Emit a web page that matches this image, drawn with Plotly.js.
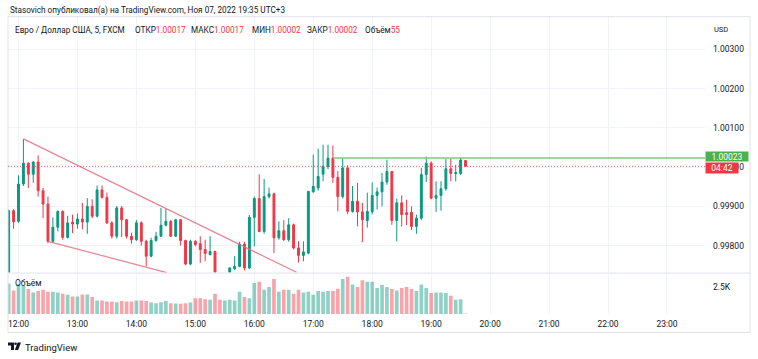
<!DOCTYPE html>
<html><head><meta charset="utf-8">
<script src="https://cdn.plot.ly/plotly-3.0.1.min.js"></script>
<style>html,body{margin:0;padding:0;background:#fff;}#chart{width:758px;height:359px;}</style>
</head><body><div id="chart"></div>
<script>
const DAY = '2022-11-07 ';
const times = ['11:50','11:55','12:00','12:05','12:10','12:15','12:20','12:25','12:30','12:35','12:40','12:45','12:50','12:55',
'13:00','13:05','13:10','13:15','13:20','13:25','13:30','13:35','13:40','13:45','13:50','13:55',
'14:00','14:05','14:10','14:15','14:20','14:25','14:30','14:35','14:40','14:45','14:50','14:55',
'15:00','15:05','15:10','15:15','15:20','15:25','15:30','15:35','15:40','15:45','15:50','15:55',
'16:00','16:05','16:10','16:15','16:20','16:25','16:30','16:35','16:40','16:45','16:50','16:55',
'17:00','17:05','17:10','17:15','17:20','17:25','17:30','17:35','17:40','17:45','17:50','17:55',
'18:00','18:05','18:10','18:15','18:20','18:25','18:30','18:35','18:40','18:45','18:50','18:55',
'19:00','19:05','19:10','19:15','19:20','19:25','19:30','19:35'];
const openP = [0.99725,0.99889,0.99862,0.99957,1.00010,0.99982,1.00013,0.99940,0.99906,0.99811,0.99847,0.99887,0.99821,0.99860,
0.99855,0.99868,0.99860,0.99900,0.99875,0.99942,0.99923,0.99858,0.99824,0.99896,0.99866,0.99824,
0.99815,0.99858,0.99811,0.99773,0.99813,0.99824,0.99852,0.99862,0.99824,0.99866,0.99813,0.99753,
0.99811,0.99805,0.99790,0.99777,0.99785,0.99728,0.99705,0.99732,0.99741,0.99747,0.99804,0.99743,
0.99872,0.99920,0.99836,0.99925,0.99932,0.99820,0.99838,0.99815,0.99853,0.99794,0.99775,0.99781,
0.99937,0.99947,0.99982,1.00002,1.00023,0.99974,0.99925,0.99998,0.99887,0.99913,0.99886,0.99864,
0.99886,0.99928,0.99937,0.99962,0.99989,0.99864,0.99909,0.99884,0.99885,0.99849,0.99870,0.99981,
1.00010,0.99921,0.99928,0.99945,0.99996,0.99984,0.99984,1.00017];
const highP = [0.99892,0.99893,0.99979,1.00072,1.00012,1.00015,1.00030,0.99947,0.99925,0.99872,0.99890,0.99890,0.99876,0.99879,
0.99882,0.99909,0.99921,0.99918,0.99953,0.99953,0.99935,0.99862,0.99901,0.99901,0.99868,0.99833,
0.99865,0.99862,0.99815,0.99820,0.99835,0.99896,0.99894,0.99865,0.99868,0.99868,0.99815,0.99815,
0.99814,0.99824,0.99815,0.99824,0.99787,0.99729,0.99727,0.99745,0.99773,0.99810,0.99810,0.99878,
0.99925,0.99982,0.99970,0.99948,0.99935,0.99862,0.99865,0.99870,0.99856,0.99811,0.99811,0.99940,
1.00032,1.00047,1.00057,1.00057,1.00055,0.99990,1.00023,1.00005,0.99952,0.99960,0.99909,0.99935,
0.99961,0.99948,0.99985,1.00019,0.99990,0.99920,0.99928,0.99917,0.99900,0.99879,0.99998,1.00027,
1.00015,0.99964,0.99964,1.00021,1.00021,1.00006,1.00024,1.00017];
const lowP = [0.99715,0.99843,0.99858,0.99952,0.99947,0.99960,0.99925,0.99870,0.99806,0.99807,0.99836,0.99815,0.99818,0.99832,
0.99843,0.99841,0.99830,0.99870,0.99872,0.99920,0.99855,0.99818,0.99818,0.99822,0.99818,0.99805,
0.99812,0.99800,0.99747,0.99770,0.99810,0.99822,0.99849,0.99822,0.99822,0.99800,0.99750,0.99750,
0.99798,0.99756,0.99760,0.99775,0.99728,0.99690,0.99700,0.99726,0.99738,0.99745,0.99737,0.99741,
0.99798,0.99834,0.99830,0.99920,0.99781,0.99815,0.99812,0.99810,0.99790,0.99757,0.99760,0.99778,
0.99935,0.99940,0.99964,0.99995,0.99960,0.99887,0.99920,0.99880,0.99884,0.99849,0.99809,0.99846,
0.99880,0.99892,0.99900,0.99955,0.99853,0.99811,0.99849,0.99852,0.99840,0.99830,0.99865,0.99962,
0.99918,0.99886,0.99889,0.99940,0.99964,0.99964,0.99980,1.00002];
const closeP = [0.99889,0.99861,0.99957,1.00010,0.99982,1.00013,0.99940,0.99906,0.99811,0.99847,0.99887,0.99821,0.99858,0.99855,
0.99868,0.99860,0.99900,0.99875,0.99942,0.99923,0.99858,0.99824,0.99896,0.99866,0.99824,0.99815,
0.99858,0.99811,0.99773,0.99813,0.99824,0.99852,0.99862,0.99824,0.99866,0.99813,0.99753,0.99811,
0.99803,0.99790,0.99780,0.99785,0.99732,0.99705,0.99722,0.99743,0.99747,0.99804,0.99743,0.99872,
0.99920,0.99836,0.99925,0.99932,0.99820,0.99838,0.99815,0.99853,0.99794,0.99775,0.99784,0.99938,
0.99951,0.99976,1.00002,1.00023,0.99974,0.99925,0.99998,0.99887,0.99913,0.99886,0.99866,0.99887,
0.99928,0.99937,0.99962,0.99989,0.99864,0.99909,0.99879,0.99879,0.99849,0.99870,0.99981,1.00010,
0.99921,0.99928,0.99945,0.99996,0.99984,0.99986,1.00018,1.00002];
const volume = [2780,2160,2690,2590,2290,1970,2100,2220,2040,2040,1970,1850,1760,1600,
1600,1790,1790,1550,1230,1230,1140,1110,1080,1200,1140,1140,
1230,1230,1200,1050,990,1080,1200,990,950,930,990,1050,
1450,1450,1360,1300,1850,1300,1230,1300,1230,2040,1550,1450,
2840,2960,2220,2470,3210,2040,2220,2220,1850,2220,1970,2040,
1760,2100,2040,2100,2100,2320,3210,3400,2690,2470,3080,2960,
2960,2380,2660,2470,2290,2160,2380,2470,2290,2100,2690,2380,
1920,1970,1970,1920,1670,1300,1360,55];
const priceTicks = [0.998, 0.999, 1.000, 1.001, 1.002, 1.003];
const hourTicks = ['12:00','13:00','14:00','15:00','16:00','17:00','18:00','19:00','20:00','21:00','22:00','23:00'];
const volTicks = [2500], volTickText = ['2.5K'];
const upperLineT = ['12:05','16:43'], upperLineP = [1.00072, 0.99732];
const lowerLineT = ['12:30','14:31'], lowerLineP = [0.99811, 0.99731];
const levelLineT = '17:20', levelLineP = 1.00023;
const countdown = '04:42';
const xRange = [DAY + '11:49:19', DAY + '23:38:43'];

const UP = '#089981', DN = '#f23645';
const x = times.map(t => DAY + t);
const isUp = closeP.map((c, i) => c >= openP[i]);

// layout helpers: pixel -> paper
const PL = 8, PR = 705, PT = 17, PB = 314.5;
const PX = v => (v - PL) / (PR - PL);
const PY = v => (PB - v) / (PB - PT);

const traces = [
  {type:'candlestick', x:x, open:openP, high:highP, low:lowP, close:closeP, xaxis:'x', yaxis:'y',
   increasing:{line:{color:UP, width:1}, fillcolor:UP}, decreasing:{line:{color:DN, width:1}, fillcolor:DN},
   whiskerwidth:0, hoverinfo:'skip'},
  {type:'bar', x:x, y:volume, xaxis:'x', yaxis:'y2', hoverinfo:'skip',
   marker:{color:isUp.map(u => u ? 'rgba(8,153,129,0.45)' : 'rgba(242,54,69,0.45)'), line:{width:0}}}
];

const fontF = 'Roboto, "Noto Sans", sans-serif';
const TXT = '#131722';
function ann(px, py, text, opts) {
  return Object.assign({xref:'paper', yref:'paper', x:PX(px), y:PY(py), text:text, showarrow:false,
    xanchor:'left', yanchor:'middle', font:{family:fontF, size:8.2, color:TXT}}, opts || {});
}
const last = closeP.length - 1;
const valCol = closeP[last] >= openP[last] ? UP : DN;
const pair = (lbl, val) => lbl + '<span style="color:' + valCol + '">' + val + '</span>';

const annotations = [
  ann(8, 10.3, 'Stasovich опубликовал(а) на TradingView.com, Ноя 07, 2022 19:35 UTC+3', {font:{family:fontF, size:8.2, color:TXT}}),
  ann(13, 30, 'Евро / Доллар США, 5, FXCM'),
  ann(132.5, 30, pair('ОТКР', openP[last].toFixed(5))),
  ann(189, 30, pair('МАКС', highP[last].toFixed(5))),
  ann(250, 30, pair('МИН', lowP[last].toFixed(5))),
  ann(305, 30, pair('ЗАКР', closeP[last].toFixed(5))),
  ann(363, 30, pair('Объём', String(volume[last]))),
  ann(712, 29.5, 'USD', {font:{family:fontF, size:7.5, color:TXT}}),
  ann(13, 283.5, 'Объём', {font:{family:fontF, size:8.5, color:TXT}}),
  ann(23, 348, 'TradingView', {font:{family:fontF, size:9.5, color:TXT}}),
  {xref:'paper', yref:'y', x:1, y:levelLineP, yshift:1.2, xanchor:'left', yanchor:'middle', showarrow:false,
   text:levelLineP.toFixed(5), bgcolor:'#4caf50', width:40, height:7, borderpad:1, align:'center',
   font:{family:fontF, size:8.5, color:'#ffffff'}},
  {xref:'paper', yref:'y', x:1, y:closeP[last], yshift:-1.5, xanchor:'left', yanchor:'middle', showarrow:false,
   text:countdown, bgcolor:DN, width:30, height:8, borderpad:1, align:'center',
   font:{family:fontF, size:8.5, color:'#ffffff'}}
];

const logoPath = 'M' + PX(8) + ',' + PY(343) + ' L' + PX(14) + ',' + PY(343) + ' L' + PX(14) + ',' + PY(350.5) +
  ' L' + PX(11) + ',' + PY(350.5) + ' L' + PX(11) + ',' + PY(346) + ' L' + PX(8) + ',' + PY(346) + ' Z';
const logoPath2 = 'M' + PX(17.6) + ',' + PY(343) + ' L' + PX(21) + ',' + PY(343) + ' L' + PX(18.2) + ',' + PY(350.5) +
  ' L' + PX(14.8) + ',' + PY(350.5) + ' Z';

const trendCol = 'rgba(226,112,132,0.85)';
const shapes = [
  {type:'line', xref:'paper', yref:'paper', x0:PX(8), x1:PX(750), y0:PY(273.5), y1:PY(273.5), line:{color:'#e0e3eb', width:1}},
  {type:'rect', xref:'paper', yref:'paper', x0:PX(8), x1:PX(750), y0:PY(16.7), y1:PY(333), line:{color:'#e0e3eb', width:1}},
  {type:'line', xref:'x', yref:'y', x0:DAY+upperLineT[0], x1:DAY+upperLineT[1], y0:upperLineP[0], y1:upperLineP[1], line:{color:trendCol, width:1.2}},
  {type:'line', xref:'x', yref:'y', x0:DAY+lowerLineT[0], x1:DAY+lowerLineT[1], y0:lowerLineP[0], y1:lowerLineP[1], line:{color:trendCol, width:1.2}},
  {type:'line', xref:'paper', yref:'y', x0:0, x1:1, y0:closeP[last], y1:closeP[last], line:{color:'rgba(242,54,69,0.8)', width:1, dash:'1px,2px'}},
  {type:'line', xref:'x', yref:'y', x0:DAY+levelLineT, x1:xRange[1], y0:levelLineP, y1:levelLineP, line:{color:'#81c784', width:1.5}},
  {type:'path', xref:'paper', yref:'paper', path:logoPath, fillcolor:TXT, line:{width:0}},
  {type:'path', xref:'paper', yref:'paper', path:logoPath2, fillcolor:TXT, line:{width:0}},
  {type:'circle', xref:'paper', yref:'paper', x0:PX(14.3), x1:PX(16.9), y0:PY(343), y1:PY(345.6), fillcolor:TXT, line:{width:0}}
];

const layout = {
  width:758, height:359,
  margin:{l:PL, r:758-PR, t:PT, b:359-PB, pad:0},
  paper_bgcolor:'#ffffff', plot_bgcolor:'#ffffff',
  showlegend:false, hovermode:false, dragmode:false,
  boxgap:0.45, bargap:0.25,
  font:{family:fontF, size:8.5, color:TXT},
  xaxis:{type:'date', range:xRange, anchor:'y2', showgrid:true, gridcolor:'#f0f3fa', gridwidth:1,
    tickmode:'array', tickvals:hourTicks.map(h => DAY + h), ticktext:hourTicks, ticks:'', showline:false,
    zeroline:false, rangeslider:{visible:false}, fixedrange:true, ticklabelstandoff:3,
    tickfont:{family:fontF, size:8.5, color:TXT}},
  yaxis:{domain:[PY(273), 1], range:[0.997313, 1.003827], side:'right', tickmode:'array', tickvals:priceTicks,
    ticktext:priceTicks.map(v => v.toFixed(5)), showgrid:true, gridcolor:'#f0f3fa', zeroline:false, ticks:'',
    showline:false, fixedrange:true, ticklabelstandoff:7, tickfont:{family:fontF, size:8.5, color:TXT}},
  yaxis2:{domain:[0, PY(274)], range:[0, 3700], side:'right', tickmode:'array', tickvals:volTicks, ticktext:volTickText,
    showgrid:false, zeroline:false, ticks:'', showline:false, fixedrange:true, ticklabelstandoff:7,
    tickfont:{family:fontF, size:8.5, color:TXT}},
  shapes:shapes, annotations:annotations
};
Plotly.newPlot('chart', traces, layout, {staticPlot:true, displayModeBar:false});
</script></body></html>
